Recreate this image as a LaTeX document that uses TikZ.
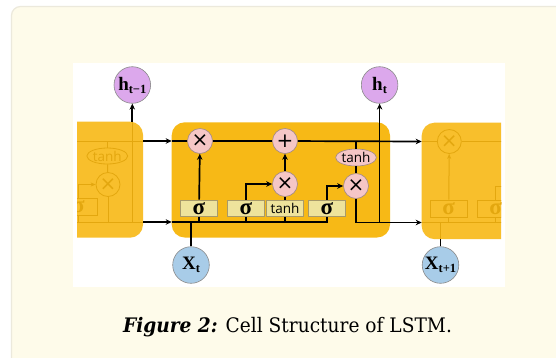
\documentclass[tikz,border=0pt]{standalone}
\usepackage{fontspec}
\setmainfont{Liberation Serif}
\newfontfamily\capfont[FakeStretch=0.93]{DejaVu Serif}
\newfontfamily\sansf{Open Sans}
\newfontfamily\symf{DejaVu Sans}
\usetikzlibrary{arrows.meta,shapes.geometric}
\definecolor{panel}{HTML}{FEFBEA}
\definecolor{panelrule}{HTML}{ECE9DC}
\definecolor{cellc}{HTML}{F7B916}
\definecolor{fadec}{HTML}{F8BF2C}
\definecolor{fadeline}{HTML}{E3A70F}
\definecolor{gatec}{HTML}{EEE39C}
\definecolor{gateb}{HTML}{A89A6A}
\definecolor{opc}{HTML}{F5C6C6}
\definecolor{opb}{HTML}{A08888}
\definecolor{hc}{HTML}{DCA8EC}
\definecolor{xc}{HTML}{A8CCE8}
\definecolor{circb}{HTML}{8A8A8A}
\tikzset{
  cellbox/.style={rectangle, rounded corners=13pt, inner sep=0pt},
  op/.style={circle, fill=opc, draw=opb, line width=0.6pt, minimum size=25pt, inner sep=0pt, font=\symf\fontsize{20}{20}\selectfont},
  fop/.style={circle, fill=fadec, draw=fadeline, line width=0.8pt, minimum size=24pt, inner sep=0pt, text=fadeline, font=\symf\fontsize{20}{20}\selectfont},
  gate/.style={rectangle, fill=gatec, draw=gateb, line width=0.6pt, minimum width=37pt, minimum height=16.7pt, inner sep=0pt},
  fgate/.style={rectangle, fill=fadec, draw=fadeline, line width=0.8pt, minimum width=37pt, minimum height=17pt, inner sep=0pt, text=fadeline},
  sig/.style={font=\bfseries\fontsize{23}{23}\selectfont},
  tnh/.style={font=\sansf\fontsize{13.5}{13.5}\selectfont},
  ell/.style={ellipse, fill=opc, draw=opb, line width=0.6pt, minimum width=35pt, minimum height=17pt, inner sep=0pt},
  fell/.style={ellipse, fill=fadec, draw=fadeline, line width=0.8pt, minimum width=37pt, minimum height=16pt, inner sep=0pt, text=fadeline},
  io/.style={circle, draw=circb, line width=0.6pt, minimum size=36.6pt, inner sep=0pt, font=\bfseries\fontsize{19}{19}\selectfont},
  wire/.style={line width=1.7pt, black},
  arr/.style={wire, -{Stealth[length=6pt,width=5.5pt]}},
  fwire/.style={line width=1pt, fadeline},
  farr/.style={fwire, -{Stealth[length=5pt,width=4pt]}},
}
\begin{document}
\begin{tikzpicture}[x=1pt,y=-1pt]
\useasboundingbox (0,0) rectangle (556,357);
\clip (0,0) rectangle (556,357);
\fill[white] (0,0) rectangle (556,357);
% panel
\draw[panelrule, fill=panel, line width=1.2pt, rounded corners=9pt] (11.5,6.5) rectangle (590,390);
% white picture area
\node[rectangle, fill=white, minimum width=432pt, minimum height=224pt, inner sep=0pt] (img) at (289,175) {};
% outer inputs / outputs
\node[io, fill=hc] (hm1) at (132.3,85) {h\raisebox{-0.35ex}{\fontsize{12.5}{12.5}\selectfont t−1}};
\node[io, fill=hc] (ht) at (379.6,85) {h\raisebox{-0.35ex}{\fontsize{12.5}{12.5}\selectfont t}};
\node[io, fill=xc] (xt) at (191,265) {X\raisebox{-0.4ex}{\fontsize{12.5}{12.5}\selectfont t}};
\node[io, fill=xc] (xt1) at (440.5,265) {X\raisebox{-0.4ex}{\fontsize{12.5}{12.5}\selectfont t+1}};
% faded neighbour cells
\begin{scope}
\clip (77,100) rectangle (501,250);
\node[cellbox, fill=fadec, minimum width=83pt, minimum height=116pt] (lcell) at (101.5,179.7) {};
\node[cellbox, fill=fadec, minimum width=120pt, minimum height=116.5pt] (rcell) at (481.7,180.9) {};
% left faded content
\coordinate (Lst) at (143,141);
\coordinate (Lbt) at (143,222);
\node[fop] (Lm) at (108,184.5) {×};
\node[fell, tnh] (Lth) at (107.3,156) {tanh};
\node[fgate, sig] (Ls) at (78.5,206.5) {σ};
\draw[fwire] (lcell.west |- Lst) -- (Lst);
\draw[fwire] (lcell.west |- Lbt) -- (Lbt);
\draw[fwire] (Lth |- Lst) -- (Lth);
\draw[fwire] (Lth) -- (Lm);
\draw[farr] (Ls.north) |- (Lm.west);
\draw[fwire] (Lm.south) -- (Lm |- Lbt);
\draw[fwire] (Ls.south) -- (Ls |- Lbt);
\draw[fwire] (hm1 |- Lbt) -- (hm1 |- lcell.north);
% right faded content
\coordinate (Rst) at (421.7,141.5);
\coordinate (Rbt) at (421.7,222.5);
\node[fop] (Rm) at (449.3,141.5) {×};
\node[fgate, sig] (Rs1) at (448.7,208.6) {σ};
\node[fgate, sig] (Rs2) at (495.7,208.6) {σ};
\draw[fwire] (Rst) -- (Rm.west);
\draw[fwire] (Rm.east) -- (rcell.east |- Rst);
\draw[farr] (Rs1) -- (Rm);
\draw[fwire] (Rs2.north) |- (rcell.east |- 0,186);
\draw[fwire] (Rbt) -- (rcell.east |- Rbt);
\draw[fwire] (Rs1.south) -- (Rs1 |- Rbt);
\draw[fwire] (Rs2.south) -- (Rs2 |- Rbt);
\draw[fwire] (xt1 |- Rbt) -- (xt1 |- rcell.south);
\end{scope}
% main cell
\node[cellbox, fill=cellc, minimum width=218.3pt, minimum height=115.2pt] (main) at (280.85,179.9) {};
\coordinate (Mst) at (171.7,141);
\coordinate (Mbt) at (171.7,222);
\node[op] (m1) at (200,141) {×};
\node[op] (pl) at (285,141) {+};
\node[op] (m2) at (285,184) {×};
\node[op] (m3) at (356,186) {×};
\node[ell, tnh] (th) at (356,157.5) {tanh};
\node[gate, sig] (s1) at (199,208.3) {σ};
\node[gate, sig] (s2) at (245.8,208.3) {σ};
\node[gate, tnh] (tb) at (285,208.3) {tanh};
\node[gate, sig] (s3) at (327,208.3) {σ};
% connectors
\draw[arr] (Lst) -- (Mst);
\draw[wire] (Mst) -- (m1);
\draw[wire] (m1) -- (pl);
\draw[arr] (pl) -- (Rst);
\draw[wire] (th |- pl) -- (th);
\draw[wire] (th) -- (m3);
\draw[arr] (s1) -- (m1);
\draw[arr] (s2.north) |- (m2.west);
\draw[wire] (tb) -- (m2);
\draw[arr] (m2) -- (pl);
\draw[arr] (s3.north) |- (m3.west);
\draw[arr] (m3.south) |- (Rbt);
\draw[arr] (ht |- Rbt) -- (ht);
\draw[arr] (Lbt) -- (Mbt);
\draw[wire] (Mbt) -| (s3.south);
\draw[wire] (s1.south) -- (s1 |- Mbt);
\draw[wire] (s2.south) -- (s2 |- Mbt);
\draw[wire] (tb.south) -- (tb |- Mbt);
\draw[wire] (xt) -- (xt |- Mbt);
\draw[wire] (xt1) -- (xt1 |- rcell.south);
\draw[arr] (hm1 |- lcell.north) -- (hm1);
% caption
\node[anchor=base, inner sep=0pt, font=\capfont\fontsize{20}{20}\selectfont] (cap) at (287.5,332.5) {\textbf{\textit{Figure 2:}} Cell Structure of LSTM.};
\end{tikzpicture}
\end{document}
